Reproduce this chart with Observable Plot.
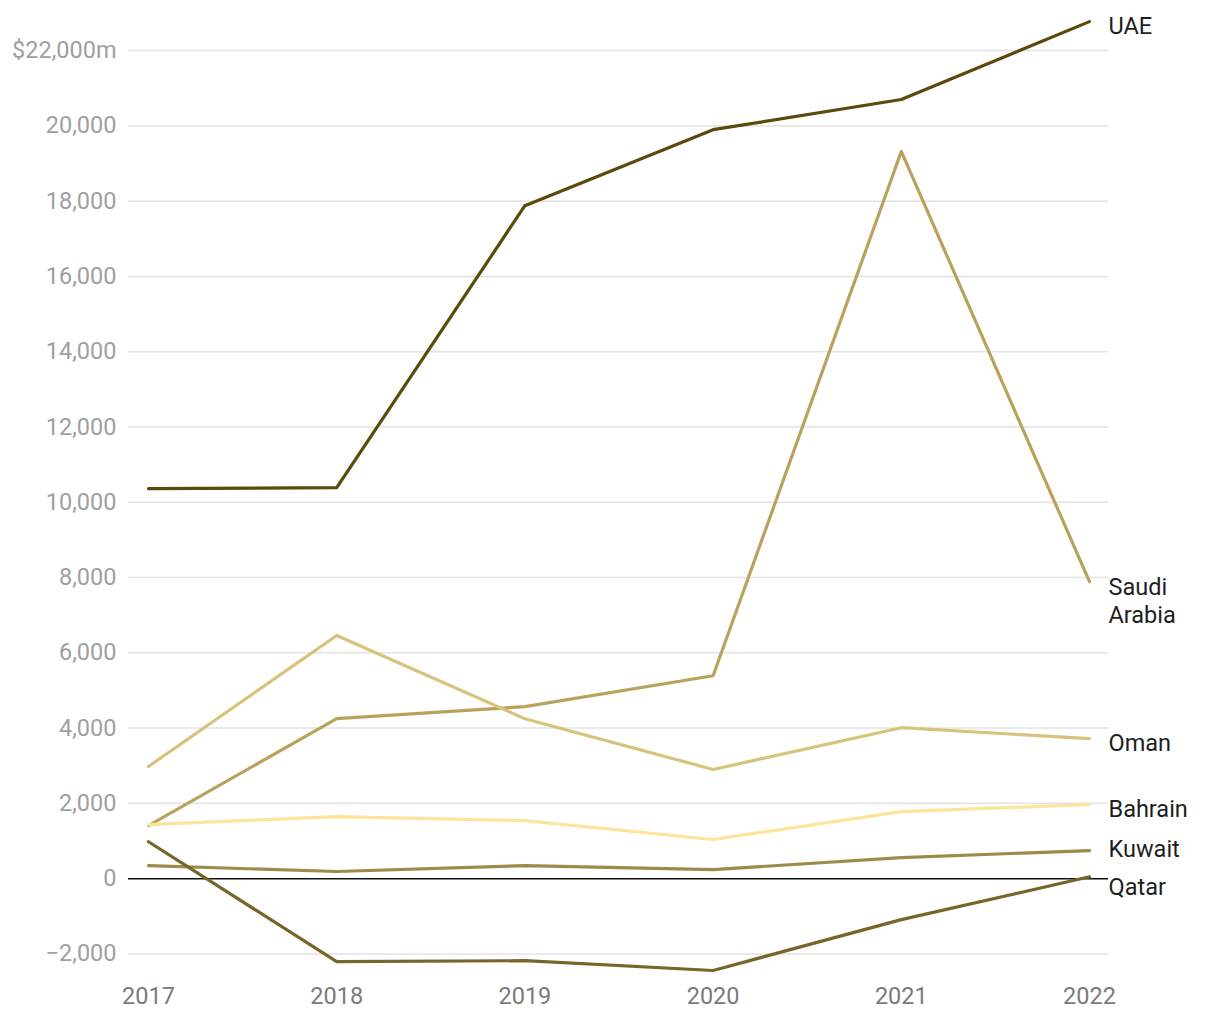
<!DOCTYPE html>
<html>
<head>
<meta charset="utf-8">
<script src="https://cdn.jsdelivr.net/npm/d3@7"></script>
<script src="https://cdn.jsdelivr.net/npm/@observablehq/plot@0.6"></script>
<style>
  html, body { margin: 0; padding: 0; background: #fff; overflow: hidden; }
  #chart { width: 1220px; height: 1020px; }
</style>
</head>
<body>
<div id="chart"></div>
<script>
// ---- data ----
const years = [2017, 2018, 2019, 2020, 2021, 2022];
const countries = ["UAE", "Saudi Arabia", "Oman", "Bahrain", "Kuwait", "Qatar"];
const uae     = [10360, 10390, 17880, 19900, 20700, 22770];
const saudi   = [1410, 4250, 4570, 5390, 19320, 7890];
const oman    = [2980, 6460, 4250, 2900, 4010, 3720];
const bahrain = [1435, 1650, 1540, 1040, 1780, 1970];
const kuwait  = [345, 190, 345, 240, 560, 745];
const qatar   = [980, -2205, -2180, -2440, -1090, 50];
const yTicks = [-2000, 0, 2000, 4000, 6000, 8000, 10000, 12000, 14000, 16000, 18000, 20000, 22000];
const yTickLabels = ["\u22122,000", "0", "2,000", "4,000", "6,000", "8,000", "10,000", "12,000", "14,000", "16,000", "18,000", "20,000", "$22,000m"];
const labelText = ["UAE", "Saudi\nArabia", "Oman", "Bahrain", "Kuwait", "Qatar"];

// ---- styles ----
const colors = ["#5b4a0b", "#b9a35c", "#d7c37c", "#fde597", "#9f8b49", "#786529"];
const labelDy = [3, 18, 3, 3, -3, 9];

const seriesValues = [uae, saudi, oman, bahrain, kuwait, qatar];
const rows = [];
countries.forEach((c, i) => {
  years.forEach((yr, j) => rows.push({country: c, year: yr, value: seriesValues[i][j], idx: i}));
});
const lastRows = countries.map((c, i) => ({country: c, year: years[years.length - 1], value: seriesValues[i][years.length - 1], label: labelText[i], dy: labelDy[i], idx: i}));

const chart = Plot.plot({
  width: 1220,
  height: 1020,
  marginLeft: 128,
  marginRight: 112,
  marginTop: 20,
  marginBottom: 44,
  style: {fontFamily: "Roboto, sans-serif", background: "#fff"},
  x: {domain: [2017, 2022], insetLeft: 20, insetRight: 19},
  y: {domain: [-2600, 22800]},
  color: {domain: countries, range: colors},
  marks: [
    Plot.ruleY(yTicks.filter(d => d !== 0), {stroke: "#e3e3e3", strokeWidth: 1.5}),
    Plot.axisY({ticks: yTicks, tickSize: 0, tickPadding: 12, fontSize: 23.5, fill: "#a0a0a0",
      tickFormat: d => yTickLabels[yTicks.indexOf(d)], label: null}),
    Plot.axisX({ticks: years, tickSize: 0, tickPadding: 11, fontSize: 23.5, fill: "#7a7a7a",
      tickFormat: d => String(d), label: null}),
    Plot.ruleY([0], {stroke: "#111", strokeWidth: 1.5}),
    Plot.line(rows, {x: "year", y: "value", z: "country", stroke: "country", strokeWidth: 3.2, strokeLinejoin: "round", strokeLinecap: "round"}),
    ...lastRows.map(r => Plot.text([r], {x: "year", y: "value", text: "label", dx: 19, dy: r.dy,
      textAnchor: "start", lineAnchor: "middle", fontSize: 23.5, fill: "#1e1e1e", lineHeight: 1.2}))
  ]
});
document.getElementById("chart").appendChild(chart);
</script>
</body>
</html>
